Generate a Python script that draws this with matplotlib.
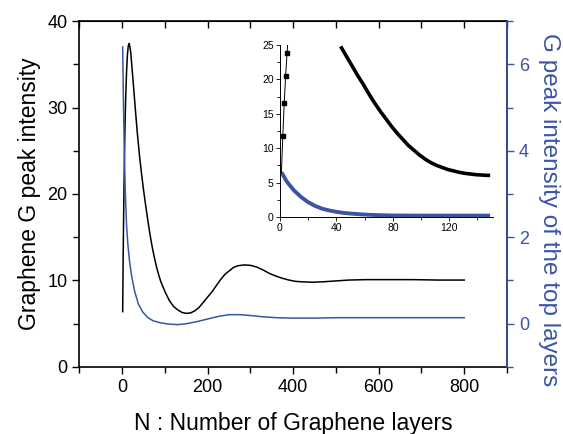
import numpy as np
import matplotlib
matplotlib.use("Agg")
import matplotlib.pyplot as plt
from matplotlib.ticker import MultipleLocator

plt.rcParams["font.family"] = ["Liberation Sans", "DejaVu Sans"]

# graphene G peak intensity vs number of layers (left axis)
n_black = [1, 2, 3, 4, 5, 6, 7, 8, 10, 12, 14, 16, 18, 20, 25, 30, 35, 40, 45,
           50, 55, 60, 65, 70, 75, 80, 85, 90, 95, 100, 110, 120, 130, 140,
           150, 160, 170, 180, 190, 200, 210, 220, 230, 240, 250, 260, 270,
           285, 300, 315, 330, 345, 360, 375, 390, 405, 420, 445, 470, 500,
           530, 570, 620, 680, 740, 800]
g_black = [6.4, 11.8, 16.5, 20.5, 23.8, 26.6, 29.0, 31.0, 34.0, 36.0, 37.1,
           37.4, 37.0, 36.3, 33.3, 30.2, 27.2, 24.6, 22.4, 20.4, 18.6, 16.9,
           15.3, 13.9, 12.7, 11.6, 10.7, 9.9, 9.3, 8.7, 7.7, 7.0, 6.6, 6.3,
           6.2, 6.25, 6.5, 6.9, 7.5, 8.1, 8.7, 9.4, 10.1, 10.7, 11.1, 11.5,
           11.7, 11.8, 11.75, 11.55, 11.2, 10.8, 10.5, 10.25, 10.05, 9.9,
           9.85, 9.8, 9.85, 9.95, 10.05, 10.1, 10.1, 10.1, 10.05, 10.05]

# G peak intensity of the top layers (right axis)
n_blue = [1, 3, 5, 7, 10, 13, 17, 22, 29, 38, 48, 60, 72, 90, 110, 130, 150,
          175, 200, 225, 250, 275, 300, 330, 360, 400, 450, 500, 600, 700,
          800]
g_blue = [6.4, 5.0, 3.9, 3.1, 2.3, 1.85, 1.45, 1.1, 0.75, 0.45, 0.27, 0.14,
          0.07, 0.02, -0.01, -0.02, 0.0, 0.05, 0.11, 0.17, 0.21, 0.21, 0.19,
          0.16, 0.14, 0.13, 0.13, 0.14, 0.14, 0.14, 0.14]

# inset curves
n_inset_black = [43, 47, 51, 55, 59, 63, 67, 71, 75, 79, 83, 87, 91, 95, 99,
                 103, 107, 111, 115, 119, 123, 127, 131, 135, 139, 143, 147,
                 149]
g_inset_black = [24.8, 23.4, 22.0, 20.6, 19.3, 17.9, 16.6, 15.4, 14.3, 13.2,
                 12.2, 11.3, 10.4, 9.7, 9.0, 8.4, 7.9, 7.5, 7.2, 6.9, 6.7, 6.5,
                 6.35, 6.25, 6.15, 6.1, 6.05, 6.05]
n_inset_blue = [1, 5, 10, 15, 20, 25, 30, 35, 40, 45, 50, 60, 70, 80, 100,
                120, 149]
g_inset_blue = [6.5, 5.1, 3.85, 2.9, 2.15, 1.6, 1.2, 0.95, 0.75, 0.6, 0.5,
                0.35, 0.27, 0.22, 0.2, 0.2, 0.2]

blue = "#3b55a6"

fig = plt.figure(figsize=(5.63, 4.34), dpi=100)
ax = fig.add_axes([0.1412, 0.1544, 0.7593, 0.7972])

ax.plot(n_black, g_black, color="k", lw=1.1, zorder=3)
ax.set_xlim(-100, 900)
ax.set_ylim(0, 40)
ax.xaxis.set_major_locator(MultipleLocator(200))
ax.xaxis.set_minor_locator(MultipleLocator(100))
ax.yaxis.set_major_locator(MultipleLocator(10))
ax.yaxis.set_minor_locator(MultipleLocator(5))
ax.tick_params(which="both", direction="out", labelsize=13, width=1.0)
ax.tick_params(which="major", length=5)
ax.tick_params(which="minor", length=4)
for s in ax.spines.values():
    s.set_linewidth(1.2)
ax.set_xlabel("N : Number of Graphene layers", fontsize=16.5, labelpad=12)
ax.set_ylabel("Graphene G peak intensity", fontsize=16.5, labelpad=5)

# top spine ticks pointing in
top = ax.secondary_xaxis("top")
top.xaxis.set_major_locator(MultipleLocator(100))
top.tick_params(direction="in", length=5, width=1.0, labeltop=False)

ax2 = ax.twinx()
ax2.plot(n_blue, g_blue, color=blue, lw=1.1, zorder=3)
ax2.set_ylim(-1, 7)
ax2.yaxis.set_major_locator(MultipleLocator(2))
ax2.yaxis.set_minor_locator(MultipleLocator(1))
ax2.tick_params(which="both", direction="out", colors=blue, labelsize=13,
                width=1.0)
ax2.tick_params(which="major", length=5)
ax2.tick_params(which="minor", length=4)
ax2.spines["right"].set_color(blue)
ax2.spines["right"].set_linewidth(1.2)
ax2.spines["left"].set_visible(False)
ax2.spines["top"].set_visible(False)
ax2.spines["bottom"].set_visible(False)
ax2.set_ylabel("G peak intensity of the top layers", fontsize=17.5,
               color=blue, rotation=270)
ax2.yaxis.label.set_va("center")
ax2.yaxis.label.set_ha("center")
ax2.yaxis.set_label_coords(1.098, 0.454)

# inset
axi = fig.add_axes([0.4973, 0.5, 0.3783, 0.3963])
axi.patch.set_alpha(0)
axi.plot(n_inset_blue, g_inset_blue, color=blue, lw=2.8, zorder=2,
         solid_capstyle="butt")
axi.plot(n_inset_black, g_inset_black, color="k", lw=2.6, zorder=3,
         solid_capstyle="butt", clip_on=False)
axi.plot(n_black[:8], g_black[:8], color="k", lw=0.7, marker="s",
         markersize=2.8, markevery=[1, 2, 3, 4], zorder=3)
axi.set_xlim(0, 151)
axi.set_ylim(0, 25)
axi.spines["top"].set_visible(False)
axi.spines["right"].set_visible(False)
axi.xaxis.set_major_locator(MultipleLocator(40))
axi.xaxis.set_minor_locator(MultipleLocator(20))
axi.yaxis.set_major_locator(MultipleLocator(5))
axi.yaxis.set_minor_locator(MultipleLocator(2.5))
axi.tick_params(which="both", direction="out", labelsize=7.5, width=0.6,
                pad=1.5)
axi.tick_params(which="major", length=3)
axi.tick_params(which="minor", length=2)
for s in axi.spines.values():
    s.set_linewidth(0.7)

fig.savefig("out.png", dpi=100)
